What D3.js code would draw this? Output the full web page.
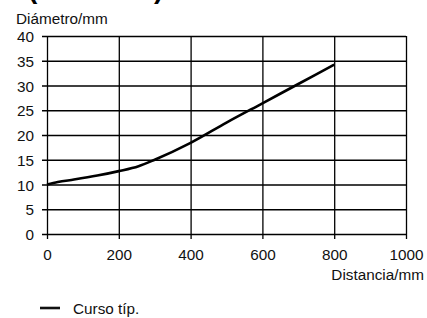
<!DOCTYPE html>
<html>
<head>
<meta charset="utf-8">
<script src="https://cdn.jsdelivr.net/npm/d3@7"></script>
<style>
    body { margin: 0; background: #fff; }
    svg { display: block; font-family: "Liberation Sans", Arial, sans-serif; }
</style>
</head>
<body>
<svg id="chart"></svg>
<script>
const WIDTH = 427, HEIGHT = 318;

// Curso típico: distancia (mm) vs diámetro (mm)
const distancia = [0, 30, 75, 140, 200, 255, 300, 400, 500, 600, 700, 800];
const diametro = [10, 10.5, 11, 11.8, 12.7, 13.7, 15, 18.4, 22.5, 26.4, 30.3, 34.2];
const xTicks = [0, 200, 400, 600, 800, 1000];
const yTicks = [0, 5, 10, 15, 20, 25, 30, 35, 40];
const serie = "Curso típ.";

const plot = { left: 47, right: 406, top: 36, bottom: 234 };
const FONT = 15.3;

const svg = d3.select("#chart")
    .attr("width", WIDTH)
    .attr("height", HEIGHT);

const x = d3.scaleLinear().domain([0, 1000]).range([plot.left, plot.right]);
const y = d3.scaleLinear().domain([0, 40]).range([plot.bottom, plot.top]);

// cut-off heading at the very top
svg.append("text")
    .attr("x", 28).attr("y", -2)
    .attr("font-size", 28).attr("font-weight", "bold")
    .text("(");
svg.append("text")
    .attr("x", 154).attr("y", -2)
    .attr("font-size", 28).attr("font-weight", "bold")
    .text(")");

// grid + axes
const xAxis = svg.append("g")
    .attr("transform", `translate(0,${plot.bottom})`)
    .call(d3.axisBottom(x).tickValues(xTicks).tickFormat(d3.format("d"))
        .tickSize(-(plot.bottom - plot.top)).tickSizeOuter(0));
xAxis.selectAll(".tick line").attr("y2", 5).attr("y1", -(plot.bottom - plot.top));

const yAxis = svg.append("g")
    .attr("transform", `translate(${plot.left},0)`)
    .call(d3.axisLeft(y).tickValues(yTicks)
        .tickSize(-(plot.right - plot.left)).tickSizeOuter(0));
yAxis.selectAll(".tick line").attr("x1", -5).attr("x2", plot.right - plot.left);

svg.selectAll(".domain").remove();
svg.selectAll(".tick line")
    .attr("stroke", "#000")
    .attr("stroke-width", 1.3);
svg.selectAll(".tick text")
    .attr("fill", "#111")
    .attr("font-size", FONT)
    .attr("font-family", "Liberation Sans, Arial, sans-serif");
xAxis.selectAll(".tick text").attr("dy", 0).attr("y", 26);
yAxis.selectAll(".tick text").attr("x", -13).attr("dy", "0.36em");

// axis titles
svg.append("text")
    .attr("x", 16).attr("y", 24)
    .attr("font-size", FONT).attr("fill", "#111")
    .text("Diámetro/mm");
svg.append("text")
    .attr("x", 424).attr("y", 280)
    .attr("text-anchor", "end")
    .attr("font-size", FONT).attr("fill", "#111")
    .text("Distancia/mm");

// data line
const pts = distancia.map((d, i) => [d, diametro[i]]);
const line = d3.line()
    .x(d => x(d[0]))
    .y(d => y(d[1]))
    .curve(d3.curveMonotoneX);

svg.append("path")
    .datum(pts)
    .attr("fill", "none")
    .attr("stroke", "#000")
    .attr("stroke-width", 2.6)
    .attr("d", line);

// legend
const legend = svg.append("g").attr("transform", "translate(40,308)");
legend.append("line")
    .attr("x1", 0).attr("x2", 20)
    .attr("stroke", "#111").attr("stroke-width", 2.6);
legend.append("text")
    .attr("x", 33).attr("y", 6)
    .attr("font-size", FONT).attr("fill", "#111")
    .text(serie);
</script>
</body>
</html>
